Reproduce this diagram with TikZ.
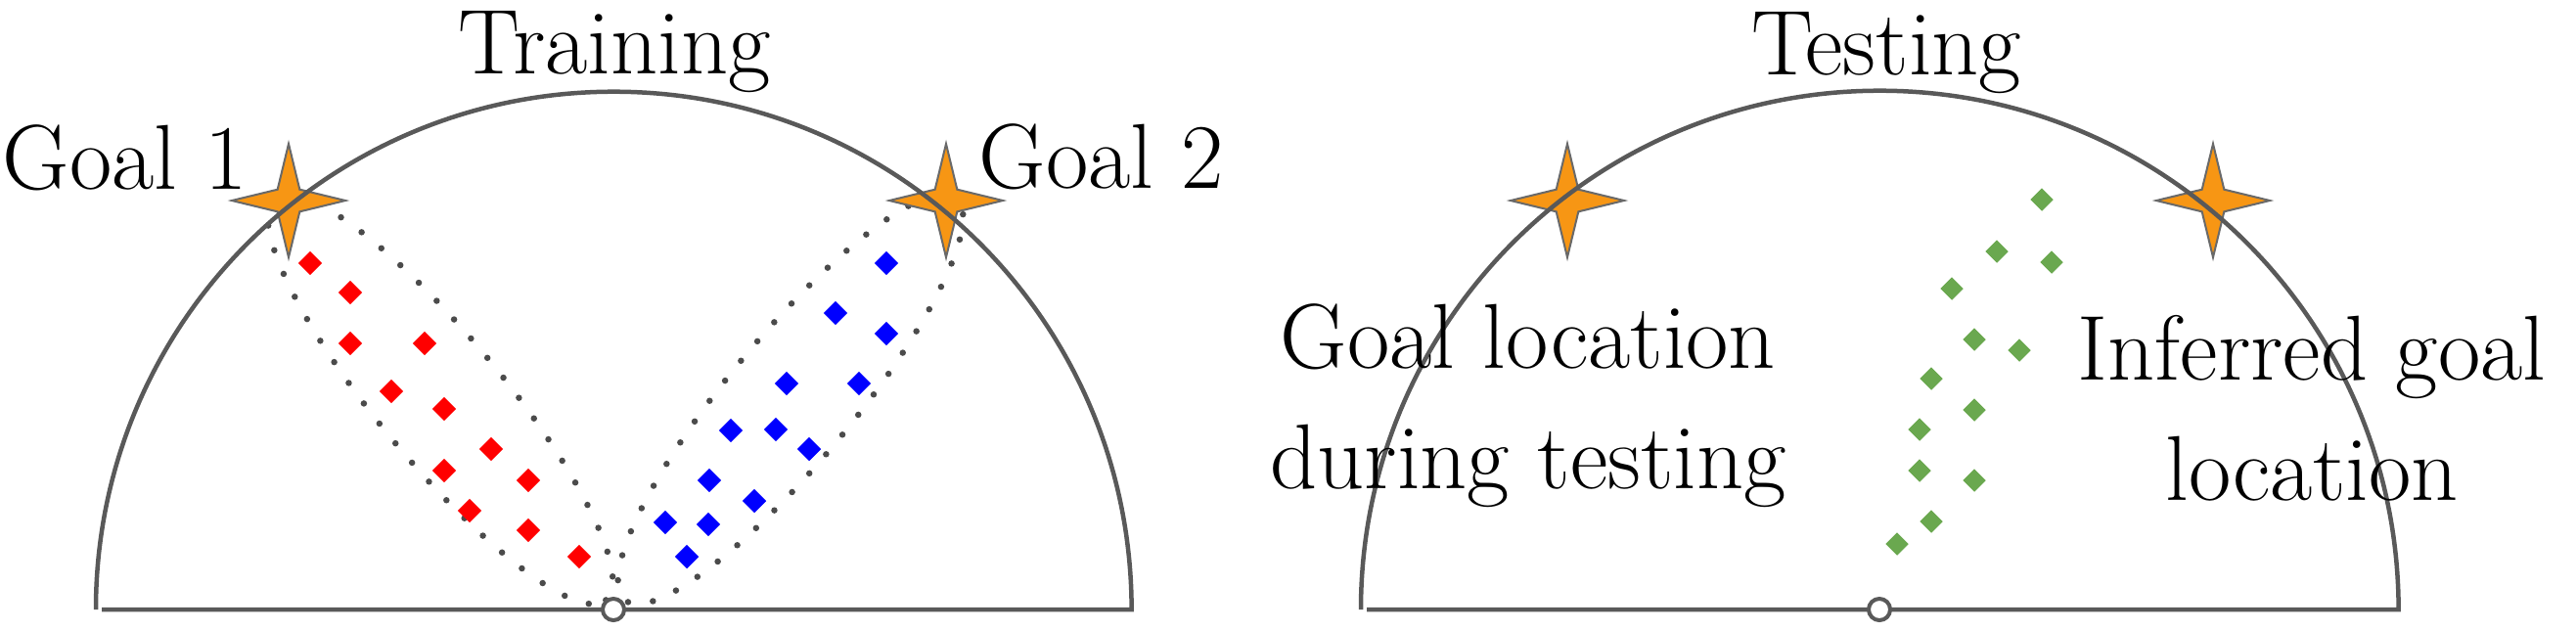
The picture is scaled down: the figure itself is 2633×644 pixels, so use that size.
\documentclass[tikz,border=0pt]{standalone}
\usetikzlibrary{shapes.geometric}
\definecolor{linegray}{RGB}{89,89,89}
\definecolor{dotgray}{RGB}{75,75,75}
\definecolor{starorange}{RGB}{247,150,20}
\definecolor{staredge}{RGB}{105,105,105}
\definecolor{ptgreen}{RGB}{106,168,79}
\tikzset{
  arcline/.style={draw=linegray, line width=0.045cm, line join=miter},
  dotline/.style={draw=dotgray, line width=0.065cm, line cap=round, dash pattern=on 0pt off 0.26cm},
  diamondmark/.style={shape=diamond, inner sep=0pt, minimum width=0.25cm, minimum height=0.25cm, draw=none},
  opencirc/.style={shape=circle, draw=linegray, line width=0.04cm, fill=white, inner sep=0pt, minimum size=0.22cm},
  lbl/.style={inner sep=0pt, font=\rmfamily\fontsize{26.8pt}{32pt}\selectfont, text=black},
  goalstar/.pic={\draw[fill=starorange, draw=staredge, line width=0.02cm, line join=miter]
    (0:0.58cm) -- (45:0.16cm) -- (90:0.58cm) -- (135:0.16cm) -- (180:0.58cm) -- (225:0.16cm) -- (270:0.58cm) -- (315:0.16cm) -- cycle;}
}
\begin{document}
\begin{tikzpicture}[x=0.01cm, y=-0.01cm]
\useasboundingbox (0,0) rectangle (2633,644);
% dotted regions (training)
\begin{scope}[shift={(450,408)}, rotate=-50.5]
  \draw[dotline] (0,0) ellipse [x radius=2.66cm, y radius=0.64cm];
\end{scope}
\begin{scope}[shift={(808,408)}, rotate=50.5]
  \draw[dotline] (0,0) ellipse [x radius=2.66cm, y radius=0.64cm];
\end{scope}
% stars
\pic (s1) at (295,205) {goalstar};
\pic (s2) at (967,205) {goalstar};
\pic (s3) at (1602,205) {goalstar};
\pic (s4) at (2262,205) {goalstar};
% semicircles
\draw[arcline] (98,623) arc[start angle=180, end angle=0, radius=5.29cm] -- (104,623);
\draw[arcline] (1391,623) arc[start angle=180, end angle=0, radius=5.30cm] -- (1397,623);
% red diamonds
\foreach \p [count=\i] in {(317,269),(358,299),(358,351),(434,351),(400,400),(454,418),(502,459),(454,481),(540,491),(480,522),(540,542),(592,569)}
  \node[diamondmark, fill=red] (r\i) at \p {};
% blue diamonds
\foreach \p [count=\i] in {(906,269),(854,320),(906,341),(804,392),(878,392),(747,440),(793,439),(827,459),(725,491),(771,512),(680,534),(724,536),(702,569)}
  \node[diamondmark, fill=blue] (b\i) at \p {};
% green diamonds
\foreach \p [count=\i] in {(2087,204),(2041,257),(2097,268),(1995,295),(2018,347),(2064,358),(1974,387),(2018,419),(1962,439),(1962,481),(2018,491),(1974,533),(1939,556)}
  \node[diamondmark, fill=ptgreen, minimum width=0.24cm, minimum height=0.24cm] (g\i) at \p {};
% start points
\node[opencirc] (o1) at (627,623) {};
\node[opencirc] (o2) at (1921,623) {};
% labels
\node[lbl, anchor=base] (train) at (628,75) {Training};
\node[lbl, anchor=base] (test) at (1928,76) {Testing};
\node[lbl, anchor=base west] (goal1) at (2,193) {Goal 1};
\node[lbl, anchor=base west] (goal2) at (1000,192) {Goal 2};
\node[lbl, anchor=base] (gl1) at (1562,376) {Goal location};
\node[lbl, anchor=base] (gl2) at (1562,499) {during testing};
\node[lbl, anchor=base] (ig1) at (2363,388) {Inferred goal};
\node[lbl, anchor=base] (ig2) at (2363,511) {location};
\end{tikzpicture}
\end{document}
